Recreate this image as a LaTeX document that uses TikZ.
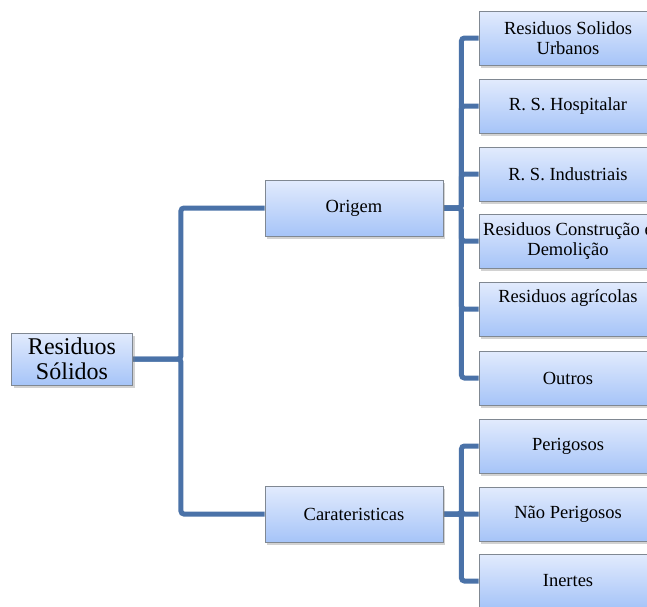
\documentclass[tikz,border=0pt]{standalone}
\usepackage{fontspec}
\setmainfont{Liberation Serif}
\usetikzlibrary{shadows,backgrounds,calc}
\definecolor{conncol}{RGB}{74,114,168}
\definecolor{boxtop}{RGB}{226,235,253}
\definecolor{boxbot}{RGB}{166,196,248}
\definecolor{boxline}{RGB}{128,136,146}
\tikzset{
  boxbase/.style={draw=boxline, line width=0.9pt, top color=boxtop, bottom color=boxbot,
    align=center, inner sep=1pt,
    drop shadow={opacity=0.35, shadow xshift=2pt, shadow yshift=-3pt}},
  rootbox/.style={boxbase, minimum width=121pt, minimum height=52pt,
    font=\fontsize{24}{25}\selectfont},
  midbox/.style={boxbase, minimum width=178pt, minimum height=56pt,
    font=\fontsize{18.5}{20}\selectfont},
  leafbox/.style={boxbase, minimum width=178pt, minimum height=54pt,
    font=\fontsize{18.5}{20}\selectfont},
  conn/.style={draw=conncol, line width=5pt, rounded corners=3pt}
}
\begin{document}
\begin{tikzpicture}[x=1pt,y=-1pt]
\useasboundingbox (0,0) rectangle (647,606);
\clip (0,0) rectangle (647,606);
\node[rootbox] (root) at (72,359) {Residuos\\Sólidos};
\node[midbox] (origem) at (354,208) {Origem};
\node[midbox] (carat) at (354,514) {Carateristicas};
\node[leafbox] (a1) at (568,38) {Residuos Solidos\\Urbanos};
\node[leafbox] (a2) at (568,106) {R. S. Hospitalar};
\node[leafbox] (a3) at (568,174) {R. S. Industriais};
\node[leafbox] (a4) at (568,241) {Residuos Construção e\\Demolição};
\node[leafbox] (a5) at (568,309) {Residuos agrícolas\\\strut};
\node[leafbox] (a6) at (568,378) {Outros};
\node[leafbox] (b1) at (568,446) {Perigosos};
\node[leafbox] (b2) at (568,514) {Não Perigosos};
\node[leafbox] (b3) at (568,581) {Inertes};
\begin{scope}[on background layer]
\fill[white] (0,0) rectangle (647,606);
\foreach \t in {origem,carat}
  \draw[conn] (root.east) -- ([xshift=48pt]root.east) |- (\t.west);
\foreach \t in {a1,a2,a3,a4,a5,a6}
  \draw[conn] (origem.east) -- ([xshift=18pt]origem.east) |- (\t.west);
\foreach \t in {b1,b2,b3}
  \draw[conn] (carat.east) -- ([xshift=18pt]carat.east) |- (\t.west);
\end{scope}
\end{tikzpicture}
\end{document}
